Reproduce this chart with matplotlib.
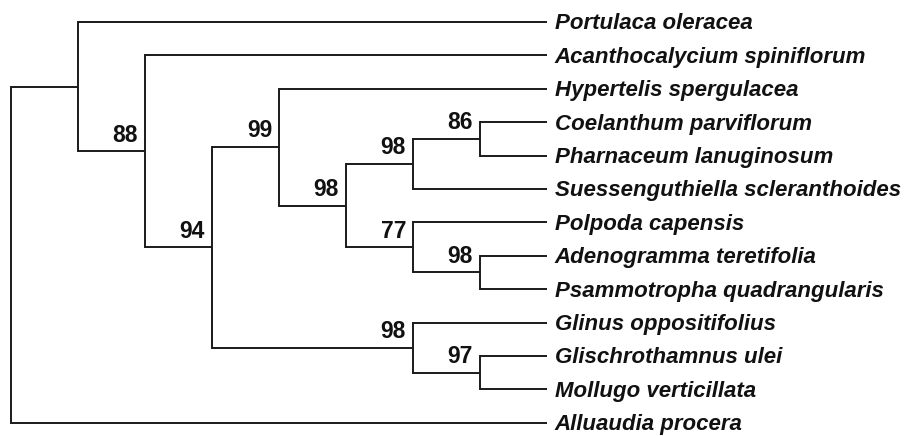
import matplotlib.pyplot as plt

# taxa, top to bottom
taxa = [
    "Portulaca oleracea",
    "Acanthocalycium spiniflorum",
    "Hypertelis spergulacea",
    "Coelanthum parviflorum",
    "Pharnaceum lanuginosum",
    "Suessenguthiella scleranthoides",
    "Polpoda capensis",
    "Adenogramma teretifolia",
    "Psammotropha quadrangularis",
    "Glinus oppositifolius",
    "Glischrothamnus ulei",
    "Mollugo verticillata",
    "Alluaudia procera",
]

# clades as nested lists of taxon indices
clade_86 = [3, 4]
clade_98a = [clade_86, 5]
clade_98c = [7, 8]
clade_77 = [6, clade_98c]
clade_98b = [clade_98a, clade_77]
clade_99 = [2, clade_98b]
clade_97 = [10, 11]
clade_98d = [9, clade_97]
clade_94 = [clade_99, clade_98d]
clade_88 = [1, clade_94]
clade_in = [0, clade_88]
tree = [clade_in, 12]

# bootstrap support per clade
support = [
    (clade_88, "88"), (clade_94, "94"), (clade_99, "99"), (clade_98a, "98"),
    (clade_98b, "98"), (clade_86, "86"), (clade_77, "77"), (clade_98c, "98"),
    (clade_98d, "98"), (clade_97, "97"),
]


def height(node):
    if isinstance(node, int):
        return 0
    return 1 + max(height(c) for c in node)


total = height(tree)
lw = 1.4
col = "#1a1a1a"


def draw(ax, node):
    # returns (x, y) of the node
    if isinstance(node, int):
        return total, node
    x = total - height(node)
    pts = [draw(ax, c) for c in node]
    ys = [p[1] for p in pts]
    for cx, cy in pts:
        ax.plot([x, cx], [cy, cy], color=col, lw=lw, solid_capstyle="butt")
    ax.plot([x, x], [min(ys), max(ys)], color=col, lw=lw, solid_capstyle="projecting")
    y = (min(ys) + max(ys)) / 2
    for cl, lab in support:
        if cl is node:
            ax.annotate(lab, (x, y), xytext=(-5, 3.5), textcoords="offset points",
                        ha="right", va="bottom", fontsize=16.5, fontweight="bold",
                        family="Liberation Sans", color="#111111")
    return x, y


fig = plt.figure(figsize=(9.08, 4.36), dpi=100)
ax = fig.add_axes([0, 0, 1, 1])
draw(ax, tree)

for i, name in enumerate(taxa):
    ax.annotate(name, (total, i), xytext=(5.5, 0.5), textcoords="offset points",
                ha="left", va="center_baseline", fontsize=16, fontweight="bold",
                style="italic", family="Liberation Sans", color="#111111")

ax.set_xlim(-11 / 67, (908 - 11) / 67)
ax.set_ylim((436 - 22) / 33.4, -22 / 33.4)
ax.axis("off")

plt.savefig("out.png", dpi=100)
